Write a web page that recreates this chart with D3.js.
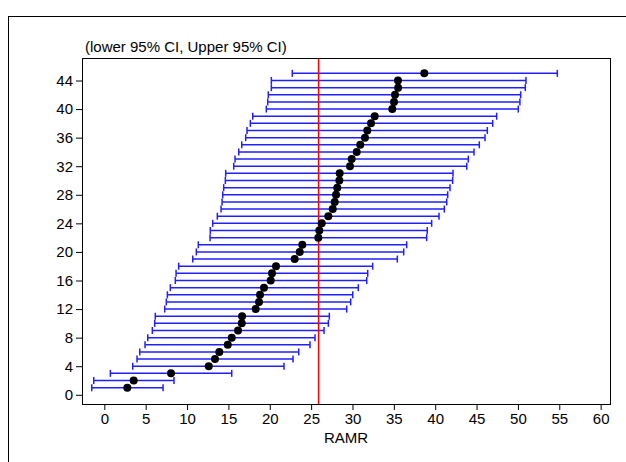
<!DOCTYPE html>
<html>
<head>
<meta charset="utf-8">
<script src="https://cdn.jsdelivr.net/npm/d3@7"></script>
<style>
  body { margin: 0; background: #fff; }
  text { font-family: "Liberation Sans", Arial, sans-serif; }
</style>
</head>
<body>
<div id="chart"></div>
<script>
// row number on the y axis
var rows = d3.range(1, 46);
// point estimate of RAMR for each row
var est = [2.78, 3.55, 8.06, 12.62, 13.38, 13.90, 14.92, 15.40, 16.16, 16.61,
  16.65, 18.30, 18.70, 18.82, 19.30, 20.11, 20.27, 20.75, 23.01, 23.62,
  23.93, 25.87, 25.99, 26.28, 27.08, 27.61, 27.85, 28.01, 28.16, 28.41,
  28.45, 29.70, 29.90, 30.51, 30.94, 31.51, 31.79, 32.24, 32.68, 34.81,
  35.02, 35.14, 35.52, 35.50, 38.68];
// lower 95% CI
var lower = [-1.52, -1.28, 0.73, 3.43, 3.95, 4.28, 4.92, 5.25, 5.80, 6.09,
  6.16, 7.30, 7.49, 7.62, 7.98, 8.58, 8.67, 8.99, 10.69, 11.12,
  11.36, 12.78, 12.81, 13.10, 13.66, 14.11, 14.23, 14.31, 14.43, 14.63,
  14.67, 15.64, 15.80, 16.25, 16.61, 17.09, 17.25, 17.65, 17.94, 19.58,
  19.75, 19.82, 20.19, 20.19, 22.72];
// upper 95% CI
var upper = [7.10, 8.42, 15.40, 21.72, 22.81, 23.50, 24.86, 25.47, 26.56, 27.08,
  27.20, 29.30, 29.78, 30.03, 30.70, 31.72, 31.84, 32.44, 35.42, 36.19,
  36.55, 38.97, 39.04, 39.57, 40.46, 41.10, 41.39, 41.51, 41.79, 42.11,
  42.15, 43.81, 44.00, 44.69, 45.33, 46.02, 46.30, 46.95, 47.43, 50.04,
  50.24, 50.33, 50.89, 50.97, 54.76];
var refLine = 25.9;
var xTicks = d3.range(0, 61, 5);
var yTicks = d3.range(0, 45, 4);

var width = 626, height = 462;
var box = {left: 82, right: 610, top: 58, bottom: 404};

var svg = d3.select("#chart").append("svg")
  .attr("width", width)
  .attr("height", height);

// outer frame (runs off the right and bottom edge)
svg.append("rect")
  .attr("x", 8.5).attr("y", 16.5)
  .attr("width", 700).attr("height", 600)
  .attr("fill", "none").attr("stroke", "#000").attr("stroke-width", 1);

var x = d3.scaleLinear().domain([-2.7, 61.13]).range([box.left, box.right]);
var y = d3.scaleLinear().domain([-1.29, 47.15]).range([box.bottom, box.top]);

var xAxis = svg.append("g")
  .attr("transform", "translate(0," + box.bottom + ")")
  .call(d3.axisBottom(x).tickValues(xTicks).tickSize(6).tickPadding(3).tickSizeOuter(0));
var yAxis = svg.append("g")
  .attr("transform", "translate(" + box.left + ",0)")
  .call(d3.axisLeft(y).tickValues(yTicks).tickSize(6).tickPadding(3).tickSizeOuter(0));
[xAxis, yAxis].forEach(g => {
  g.select(".domain").remove();
  g.selectAll("text").attr("font-size", 15).attr("fill", "#000")
    .style("font-family", "'Liberation Sans', Arial, sans-serif");
  g.selectAll("line").attr("stroke", "#000");
});

// error bars
var bars = svg.append("g").attr("stroke", "#2020ff").attr("stroke-width", 1.5);
rows.forEach((r, i) => {
  bars.append("line")
    .attr("x1", x(lower[i])).attr("x2", x(upper[i]))
    .attr("y1", y(r)).attr("y2", y(r));
  [lower[i], upper[i]].forEach(v => {
    bars.append("line")
      .attr("x1", x(v)).attr("x2", x(v))
      .attr("y1", y(r) - 3.5).attr("y2", y(r) + 3.5);
  });
});

// reference line
svg.append("line")
  .attr("x1", x(refLine)).attr("x2", x(refLine))
  .attr("y1", box.top).attr("y2", box.bottom)
  .attr("stroke", "#ff0000").attr("stroke-width", 1.5);

// points
svg.append("g").selectAll("circle")
  .data(rows)
  .join("circle")
  .attr("cx", (r, i) => x(est[i]))
  .attr("cy", r => y(r))
  .attr("r", 4)
  .attr("fill", "#000");

// plot box
svg.append("rect")
  .attr("x", box.left + 0.5).attr("y", box.top + 0.5)
  .attr("width", box.right - box.left).attr("height", box.bottom - box.top)
  .attr("fill", "none").attr("stroke", "#000").attr("stroke-width", 1);

svg.append("text")
  .attr("x", 85).attr("y", 52)
  .attr("font-size", 15)
  .text("(lower 95% CI, Upper 95% CI)");

svg.append("text")
  .attr("x", (box.left + box.right) / 2).attr("y", 443)
  .attr("text-anchor", "middle")
  .attr("font-size", 15)
  .text("RAMR");
</script>
</body>
</html>
